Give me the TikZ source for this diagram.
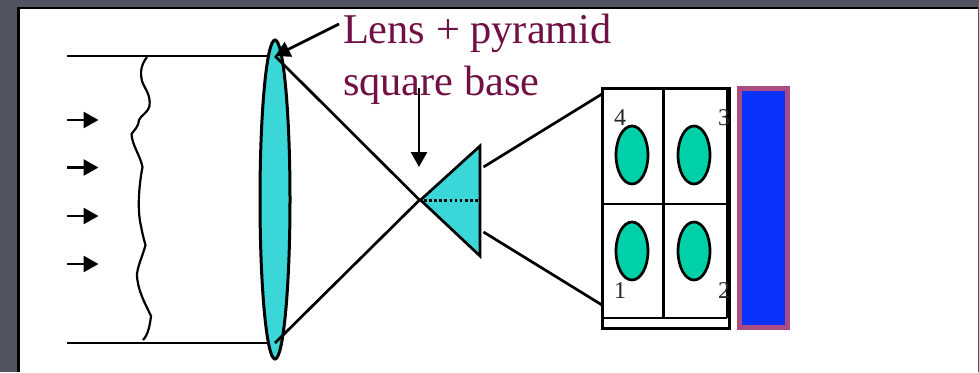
\documentclass[tikz,border=0pt]{standalone}
\usepackage{fontspec}
\setmainfont{Liberation Serif}
\usetikzlibrary{arrows.meta,shapes.geometric}
\definecolor{slatebg}{RGB}{80,84,96}
\definecolor{lensfill}{RGB}{58,214,216}
\definecolor{spotfill}{RGB}{0,208,168}
\definecolor{detblue}{RGB}{10,50,255}
\definecolor{detedge}{RGB}{170,78,130}
\definecolor{titlecol}{RGB}{112,16,68}
\tikzset{
  ln/.style={draw=black,line width=2.7pt},
  tipped/.style={ln,-{Triangle[length=15pt,width=16pt]},shorten >=0pt},
  spot/.style={ellipse,draw=black,line width=2.7pt,fill=spotfill,minimum width=32pt,minimum height=58pt,inner sep=0pt,outer sep=0pt},
  num/.style={font=\fontsize{24}{26}\selectfont,text=black!85,anchor=base west,inner sep=0pt,outer sep=0pt},
  title/.style={font=\fontsize{42.4}{50}\selectfont,text=titlecol,anchor=base west,inner sep=0pt,outer sep=0pt}
}
\begin{document}
\begin{tikzpicture}[x=1pt,y=-1pt]
\useasboundingbox (0,0) rectangle (979,372);
\fill[slatebg] (0,0) rectangle (979,372);
\fill[black] (17,6.5) rectangle (978,372);
\fill[white] (19.8,9) rectangle (977.7,372);
% incoming beam
\coordinate (tl) at (67,56);
\coordinate (bl) at (67,343);
\coordinate (tr) at (275,56);
\coordinate (br) at (275,343);
\coordinate (apex) at (419.5,200);
\draw[ln] (tl) -- (tr);
\draw[ln] (bl) -- (br);
\node[ellipse,draw=black,line width=3pt,fill=lensfill,minimum width=30pt,minimum height=319pt,inner sep=0pt,outer sep=0pt] (lens) at (275,199.5) {};
\draw[ln] (tr) -- (apex) -- (br);
% plane-wave arrows
\foreach \n/\yy in {a/120,b/167.5,c/216,d/264}{
  \coordinate (\n0) at (67,\yy);
  \coordinate (\n1) at (98.5,\yy);
  \draw[tipped] (\n0) -- (\n1);
}
% wavefront
\draw[black,line width=2.2pt,line join=round] (147,57)
  .. controls (141,65) and (140,72) .. (142,81)
  .. controls (144,88) and (151,94) .. (149.5,106)
  .. controls (147,114) and (141,115) .. (139,120)
  .. controls (138,128) and (134,130) .. (131.5,134)
  .. controls (132,145) and (140,155) .. (142.5,167)
  .. controls (139,185) and (137,210) .. (141,226)
  .. controls (142,232) and (144,240) .. (145.5,245)
  .. controls (143,255) and (138,265) .. (137,274)
  .. controls (137,290) and (146,305) .. (151,316)
  .. controls (150,325) and (148,335) .. (143,340);
% pyramid
\coordinate (p1) at (420.5,200);
\coordinate (p2) at (480,146);
\coordinate (p3) at (480,256);
\coordinate (d0) at (424,200.3);
\coordinate (d1) at (478,200.3);
\draw[ln,fill=lensfill,line join=miter] (p1) -- (p2) -- (p3) -- cycle;
\draw[black,line width=2.7pt,dash pattern=on 2.7pt off 2.4pt] (d0) -- (d1);
% detector frame
\coordinate (f1) at (602,88);
\coordinate (f2) at (729.5,328);
\coordinate (in) at (726.5,318);
\coordinate (mt) at (663.5,88);
\coordinate (mb) at (663.5,318);
\coordinate (ml) at (602,204);
\coordinate (mr) at (726.5,204);
\coordinate (inbl) at (602,318);
\coordinate (intr) at (726.5,88);
\draw[line width=3pt] (f1) rectangle (f2);
\draw[line width=2pt] (intr) -- (in);
\draw[line width=2.8pt] (inbl) -- (in);
\draw[line width=2.4pt] (mt) -- (mb);
\draw[line width=2.4pt] (ml) -- (mr);
\node[spot] (s4) at (632,155) {};
\node[spot] (s3) at (694,155) {};
\node[spot] (s1) at (632,251) {};
\node[spot] (s2) at (694,251) {};
\node[num] (n4) at (614,125) {4};
\node[num] (n3) at (718,125) {3};
\node[num] (n1) at (614,298) {1};
\node[num] (n2) at (718,298) {2};
% leader lines
\coordinate (u0) at (483.5,167);
\coordinate (u1) at (602,94);
\coordinate (v0) at (483.5,232);
\coordinate (v1) at (602,305);
\draw[ln] (u0) -- (u1);
\draw[ln] (v0) -- (v1);
% detector
\draw[draw=detedge,fill=detblue,line width=5pt] (739.5,88.5) rectangle (787.5,327.5);
% labels
\node[title] (t1) at (343,43.5) {Lens + pyramid};
\node[title] (t2) at (343,95.5) {square base};
\coordinate (c0) at (339,24);
\coordinate (c1) at (275,56);
\coordinate (e0) at (419,88);
\coordinate (e1) at (419,167);
\draw[tipped] (c0) -- (c1);
\draw[tipped] (e0) -- (e1);
\end{tikzpicture}
\end{document}
